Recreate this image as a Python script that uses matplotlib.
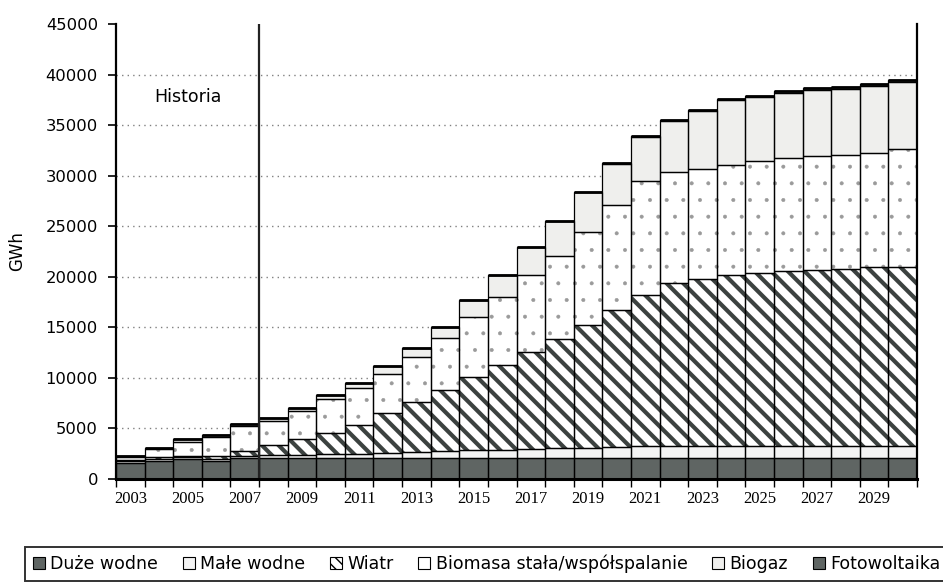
import matplotlib.pyplot as plt
import numpy as np
from matplotlib.patches import Patch

# produkcja energii elektrycznej z OZE [GWh]
years = list(range(2003, 2031))
duze_wodne = [1600, 1800, 1950, 1800, 2000] + [2080] * 23
male_wodne = [150, 150, 150, 150, 250, 280, 300, 330, 380, 450, 560, 640, 720, 780,
              840, 920, 1000, 1080, 1140, 1160, 1170, 1170, 1180, 1180, 1190, 1190, 1200, 1200]
wiatr = [130, 150, 150, 250, 450, 940, 1510, 2080, 2850, 3940, 4960, 6060, 7270, 8400,
         9620, 10830, 12140, 13540, 14980, 16160, 16490, 16880, 17070, 17270, 17390, 17520, 17650, 17710]
biomasa = [220, 800, 1420, 1930, 2500, 2440, 2840, 3400, 3630, 3930, 4450, 5150, 5930, 6740,
           7610, 8200, 9180, 10380, 11250, 10990, 10890, 10960, 11080, 11250, 11290, 11210, 11280, 11620]
biogaz = [150, 150, 230, 200, 180, 300, 300, 400, 560, 800, 890, 1085, 1680, 2140,
          2770, 3430, 3945, 4105, 4400, 5045, 5780, 6380, 6370, 6440, 6535, 6570, 6680, 6660]
fotowoltaika = [0, 0, 0, 0, 0, 0, 0, 1, 1, 2, 3, 5, 8, 12,
                18, 25, 35, 45, 60, 75, 90, 110, 130, 150, 165, 180, 190, 200]

labels = ['Duże wodne', 'Małe wodne', 'Wiatr', 'Biomasa stała/współspalanie', 'Biogaz', 'Fotowoltaika']
series = [duze_wodne, male_wodne, wiatr, biomasa, biogaz, fotowoltaika]
fills = ['#5f6563', '#f3f3f3', '#ffffff', '#ffffff', '#efefed', '#5f6563']
hatches = [None, None, '\\\\', '.', None, None]
hatch_cols = [None, None, '#3c4240', '#9a9a9a', None, None]
hatch_lw = [None, None, 3.0, 0.4, None, None]

plt.rcParams['font.family'] = ['DejaVu Sans']

fig = plt.figure(figsize=(9.43, 5.86), dpi=100)
ax = fig.add_axes([116 / 943, 1 - 478.7 / 586, (917 - 116) / 943, (478.7 - 24) / 586])

x = np.arange(len(years))
bottom = np.zeros(len(years))
for vals, fc, h, hc, hlw in zip(series, fills, hatches, hatch_cols, hatch_lw):
    vals = np.array(vals, dtype=float)
    if h:
        with plt.rc_context({'hatch.linewidth': hlw}):
            ax.bar(x, vals, 1.0, bottom=bottom, color=fc, edgecolor=hc, hatch=h,
                   linewidth=0, zorder=2)
    else:
        ax.bar(x, vals, 1.0, bottom=bottom, color=fc, linewidth=0, zorder=2)
    # obrys segmentow
    ax.bar(x, vals, 1.0, bottom=bottom, fill=False, edgecolor='black', linewidth=0.9, zorder=3)
    bottom += vals

# grubsza krawedz na szczycie slupka
ax.hlines(bottom, x - 0.5, x + 0.5, color='black', linewidth=2.0, zorder=4)

# siatka i podzial historia / prognoza
for yv in range(5000, 45000, 5000):
    ax.axhline(yv, color='#808080', linestyle=(0, (1, 3)), linewidth=1.0, zorder=1)
ax.axvline(4.5, color='#222222', linewidth=1.6, zorder=4)
ax.text(2.0, 37800, 'Historia', fontsize=12.5, ha='center', va='center')

ax.set_xlim(-0.5, len(years) - 0.5)
ax.set_ylim(0, 45000)
ax.set_yticks(range(0, 45001, 5000))
ax.tick_params(axis='y', labelsize=11.8, length=6, width=1.2, direction='out', pad=7)

ax.set_xticks(np.arange(-0.5, len(years), 1.0))
ax.set_xticklabels([])
ax.set_xticks(x, minor=True)
ax.set_xticklabels([str(y) if i % 2 == 0 else '' for i, y in enumerate(years)], minor=True,
                   family='Liberation Serif', fontsize=12)
ax.tick_params(axis='x', which='major', length=6, width=1.0, direction='out')
ax.tick_params(axis='x', which='minor', length=0, pad=9)

ax.set_ylabel('GWh', fontsize=12, labelpad=14)
ax.spines['top'].set_visible(False)
ax.spines['left'].set_linewidth(1.6)
ax.spines['right'].set_linewidth(1.6)
ax.spines['bottom'].set_linewidth(2.2)
ax.spines['bottom'].set_zorder(5)

handles = []
for lab, fc, h in zip(labels, fills, hatches):
    if h == '\\\\':
        handles.append(Patch(facecolor='#ffffff', edgecolor='black', hatch='\\\\\\', linewidth=0.8, label=lab))
    else:
        handles.append(Patch(facecolor=fc, edgecolor='black', linewidth=0.8, label=lab))
leg = fig.legend(handles=handles, loc='lower left', bbox_to_anchor=(25 / 943, 0.008, 923 / 943, 0.058),
                 mode='expand', ncol=6, fontsize=12.5, frameon=True, fancybox=False,
                 handlelength=0.7, handleheight=0.7, handletextpad=0.3, borderaxespad=0,
                 columnspacing=1.0, borderpad=0.45)
leg.get_frame().set_edgecolor('black')
leg.get_frame().set_linewidth(1.4)

fig.savefig('out.png', dpi=100)
